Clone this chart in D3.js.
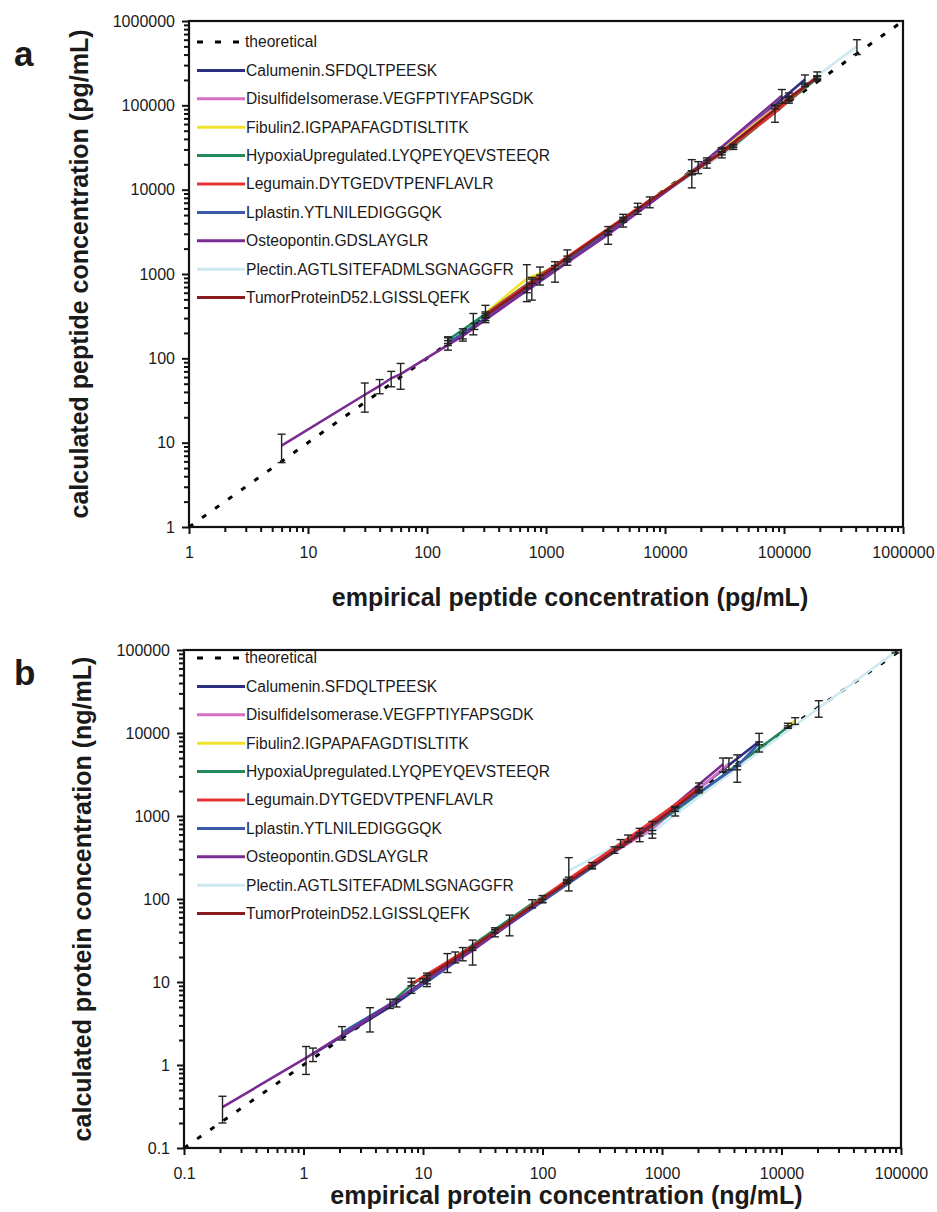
<!DOCTYPE html>
<html>
<head>
<meta charset="utf-8">
<script src="https://cdn.jsdelivr.net/npm/d3@7"></script>
<style>
  body { margin: 0; background: #fff; }
  text { font-family: "Liberation Sans", Arial, sans-serif; fill: #1a1a1a; }
</style>
</head>
<body>
<svg id="chart" width="937" height="1212"></svg>
<script>
var peptides = [
  "Calumenin.SFDQLTPEESK",
  "DisulfideIsomerase.VEGFPTIYFAPSGDK",
  "Fibulin2.IGPAPAFAGDTISLTITK",
  "HypoxiaUpregulated.LYQPEYQEVSTEEQR",
  "Legumain.DYTGEDVTPENFLAVLR",
  "Lplastin.YTLNILEDIGGGQK",
  "Osteopontin.GDSLAYGLR",
  "Plectin.AGTLSITEFADMLSGNAGGFR",
  "TumorProteinD52.LGISSLQEFK"
];
var colors = ["#2d2f80", "#d46fc4", "#f2e22c", "#25885a", "#e6322e", "#3b5bab", "#7b2c92", "#cde9f1", "#8c1c1c"];

// panel a: empirical vs calculated peptide concentration (pg/mL), sd of calculated
var empA = [
  [150, 310, 1510, 4450, 30000, 150000],
  [250, 760, 3330, 16800, 84000, 190000],
  [310, 690, 1190, 4450, 22500, 110000],
  [150, 245, 890, 3330, 19000, 37500, 190000],
  [310, 760, 1510, 5900, 16800, 30000, 84000, 190000],
  [150, 200, 1190, 4450, 22500, 110000],
  [6, 30, 40, 50, 60, 200, 690, 3330, 16800, 96000],
  [890, 7450, 37500, 150000, 410000],
  [310, 1510, 5900, 30000, 110000, 190000]
];
var calcA = [
  [150, 300, 1450, 4350, 29000, 202000],
  [240, 700, 3100, 16600, 95000, 215000],
  [345, 880, 1200, 4500, 21500, 123000],
  [165, 265, 975, 3050, 18500, 33000, 210000],
  [330, 820, 1600, 6000, 15800, 27000, 82000, 222000],
  [152, 192, 1100, 4300, 20900, 118000],
  [9.2, 37, 47, 58, 65, 185, 640, 2950, 16000, 130000],
  [920, 7150, 31500, 175000, 500000],
  [320, 1550, 5900, 27700, 122000, 212000]
];
var sdA = [
  [25, 20, 60, 750, 1500, 27000],
  [20, 210, 150, 6100, 4000, 9000],
  [80, 410, 60, 200, 900, 17000],
  [15, 75, 235, 150, 3000, 1500, 8000],
  [25, 50, 330, 900, 800, 1200, 19000, 27000],
  [10, 32, 300, 200, 2900, 5000],
  [3.4, 14, 9, 12, 22, 15, 40, 700, 800, 24000],
  [50, 1050, 1500, 8000, 100000],
  [20, 80, 300, 3900, 6000, 10000]
];

// panel b: empirical vs calculated protein concentration (ng/mL)
var empB = [
  [1.2, 6, 26, 100, 400, 2040, 6500],
  [10, 40, 160, 830, 3630],
  [11300, 13000],
  [5.3, 8, 18.6, 82, 260, 1290, 11300],
  [8, 16, 40, 166, 520, 2040],
  [2.1, 10.8, 53, 260, 1290, 4260, 6500],
  [0.21, 1.05, 3.6, 10.8, 26, 160, 650, 3240],
  [166, 450, 830, 4260, 20500, 90000],
  [10.8, 21.5, 100, 650, 2040]
];
var calcB = [
  [1.35, 5.6, 25, 95, 390, 2150, 7900],
  [10.5, 41, 165, 700, 4300],
  [12300, 14000],
  [5.5, 9.2, 20, 88, 255, 1150, 11800],
  [9.5, 17.5, 40, 175, 540, 2200],
  [2.45, 10, 50, 240, 1200, 4000, 7500],
  [0.31, 1.22, 3.7, 10.8, 24, 160, 600, 4200],
  [220, 470, 640, 3800, 20000, 95000],
  [11.5, 22, 100, 600, 2100]
];
var sdB = [
  [0.25, 0.6, 1, 4, 35, 100, 2000],
  [0.5, 2, 8, 160, 700],
  [800, 1300],
  [0.7, 1.9, 3, 10, 20, 150, 400],
  [0.5, 4.5, 5, 8, 50, 300],
  [0.45, 0.5, 14, 10, 60, 1450, 300],
  [0.11, 0.45, 1.2, 2, 8, 6, 110, 800],
  [95, 50, 30, 200, 4500, 3000],
  [0.5, 4, 10, 25, 90]
];

var decadesA = [1, 10, 100, 1000, 10000, 100000, 1000000];
var decadesB = [0.1, 1, 10, 100, 1000, 10000, 100000];

// drawing order (light blue underneath)
var order = [7, 0, 1, 2, 3, 5, 6, 4, 8];

var svg = d3.select("#chart");

function minorTicks(dec) {
  var out = [];
  for (var i = 0; i < dec.length - 1; i++) {
    for (var k = 2; k < 10; k++) out.push(+(dec[i] * k).toPrecision(3));
  }
  return out;
}

function drawPanel(p) {
  var g = svg.append("g");
  var x = d3.scaleLog().domain([p.dec[0], p.dec[p.dec.length - 1]]).range([p.left, p.right]);
  var y = d3.scaleLog().domain([p.dec[0], p.dec[p.dec.length - 1]]).range([p.bottom, p.top]);

  // theoretical
  g.append("line")
    .attr("x1", x(p.dec[0])).attr("y1", y(p.dec[0]))
    .attr("x2", x(p.dec[p.dec.length - 1])).attr("y2", y(p.dec[p.dec.length - 1]))
    .attr("stroke", "#000").attr("stroke-width", 3)
    .attr("stroke-dasharray", "5,11");

  var line = d3.line().x(d => x(d[0])).y(d => y(d[1]));

  order.forEach(function (s) {
    var pts = p.emp[s].map((v, i) => [v, p.calc[s][i], p.sd[s][i]]);
    g.append("path")
      .datum(pts)
      .attr("d", line)
      .attr("fill", "none")
      .attr("stroke", colors[s])
      .attr("stroke-width", 2.6);
  });

  order.forEach(function (s) {
    var pts = p.emp[s].map((v, i) => [v, p.calc[s][i], p.sd[s][i]]);
    var eb = g.append("g").selectAll("g").data(pts.filter(d => d[2] > 0)).enter().append("g")
      .attr("stroke", "#222").attr("stroke-width", 1.4);
    eb.append("line")
      .attr("x1", d => x(d[0])).attr("x2", d => x(d[0]))
      .attr("y1", d => y(d[1] + d[2])).attr("y2", d => y(Math.max(d[1] - d[2], p.dec[0])));
    eb.append("line")
      .attr("x1", d => x(d[0]) - 4).attr("x2", d => x(d[0]) + 4)
      .attr("y1", d => y(d[1] + d[2])).attr("y2", d => y(d[1] + d[2]));
    eb.append("line")
      .attr("x1", d => x(d[0]) - 4).attr("x2", d => x(d[0]) + 4)
      .attr("y1", d => y(Math.max(d[1] - d[2], p.dec[0]))).attr("y2", d => y(Math.max(d[1] - d[2], p.dec[0])));
  });

  // frame
  g.append("rect")
    .attr("x", p.left).attr("y", p.top)
    .attr("width", p.right - p.left).attr("height", p.bottom - p.top)
    .attr("fill", "none").attr("stroke", "#111").attr("stroke-width", 2.2);

  var fmt = d => String(d);
  var minor = minorTicks(p.dec);

  var xMinor = g.append("g").attr("transform", "translate(0," + p.bottom + ")")
    .call(d3.axisBottom(x).tickValues(minor).tickSize(5).tickFormat(""));
  var xMajor = g.append("g").attr("transform", "translate(0," + p.bottom + ")")
    .call(d3.axisBottom(x).tickValues(p.dec).tickSize(7).tickPadding(13).tickFormat(fmt));
  var yMinor = g.append("g").attr("transform", "translate(" + p.left + ",0)")
    .call(d3.axisLeft(y).tickValues(minor).tickSize(5).tickFormat(""));
  var yMajor = g.append("g").attr("transform", "translate(" + p.left + ",0)")
    .call(d3.axisLeft(y).tickValues(p.dec).tickSize(7).tickPadding(7).tickFormat(fmt));

  [xMinor, xMajor, yMinor, yMajor].forEach(function (a) {
    a.select(".domain").remove();
    a.selectAll(".tick line").attr("stroke", "#111").attr("stroke-width", 2);
    a.selectAll("text").style("font-size", "16px").attr("fill", "#1a1a1a");
  });

  // axis titles
  g.append("text")
    .attr("x", (p.left + p.right) / 2 + 24).attr("y", p.xty)
    .attr("text-anchor", "middle")
    .style("font-size", "25px").style("font-weight", "bold")
    .text(p.xTitle);
  g.append("text")
    .attr("transform", "translate(" + (p.ytx) + "," + ((p.top + p.bottom) / 2) + ") rotate(-90)")
    .attr("text-anchor", "middle").attr("dy", "0.35em")
    .style("font-size", "25px").style("font-weight", "bold")
    .text(p.yTitle);

  // panel letter
  g.append("text")
    .attr("x", 14).attr("y", p.letterY)
    .style("font-size", "35px").style("font-weight", "bold")
    .text(p.letter);

  // legend
  var rows = ["theoretical"].concat(peptides);
  var lg = g.append("g").selectAll("g").data(rows).enter().append("g")
    .attr("transform", (d, i) => "translate(197," + (p.legendTop + i * 28.4) + ")");
  lg.append("line")
    .attr("x1", 0).attr("x2", d => d === "theoretical" ? 44 : 48)
    .attr("y1", 0).attr("y2", 0)
    .attr("stroke", (d, i) => i === 0 ? "#000" : colors[i - 1])
    .attr("stroke-width", 3)
    .attr("stroke-dasharray", d => d === "theoretical" ? "6,12" : null);
  lg.append("text")
    .attr("x", d => d === "theoretical" ? 48 : 49).attr("y", 0).attr("dy", "0.35em")
    .style("font-size", "15.6px")
    .text(d => d);
}

drawPanel({
  left: 189, right: 903, top: 21, bottom: 527,
  dec: decadesA, emp: empA, calc: calcA, sd: sdA,
  xTitle: "empirical peptide concentration (pg/mL)",
  yTitle: "calculated peptide concentration (pg/mL)",
  ytx: 79, xty: 606, letter: "a", letterY: 66, legendTop: 42
});

drawPanel({
  left: 184, right: 901, top: 650, bottom: 1148,
  dec: decadesB, emp: empB, calc: calcB, sd: sdB,
  xTitle: "empirical protein concentration (ng/mL)",
  yTitle: "calculated protein concentration (ng/mL)",
  ytx: 82, xty: 1204, letter: "b", letterY: 685, legendTop: 658
});
</script>
</body>
</html>
